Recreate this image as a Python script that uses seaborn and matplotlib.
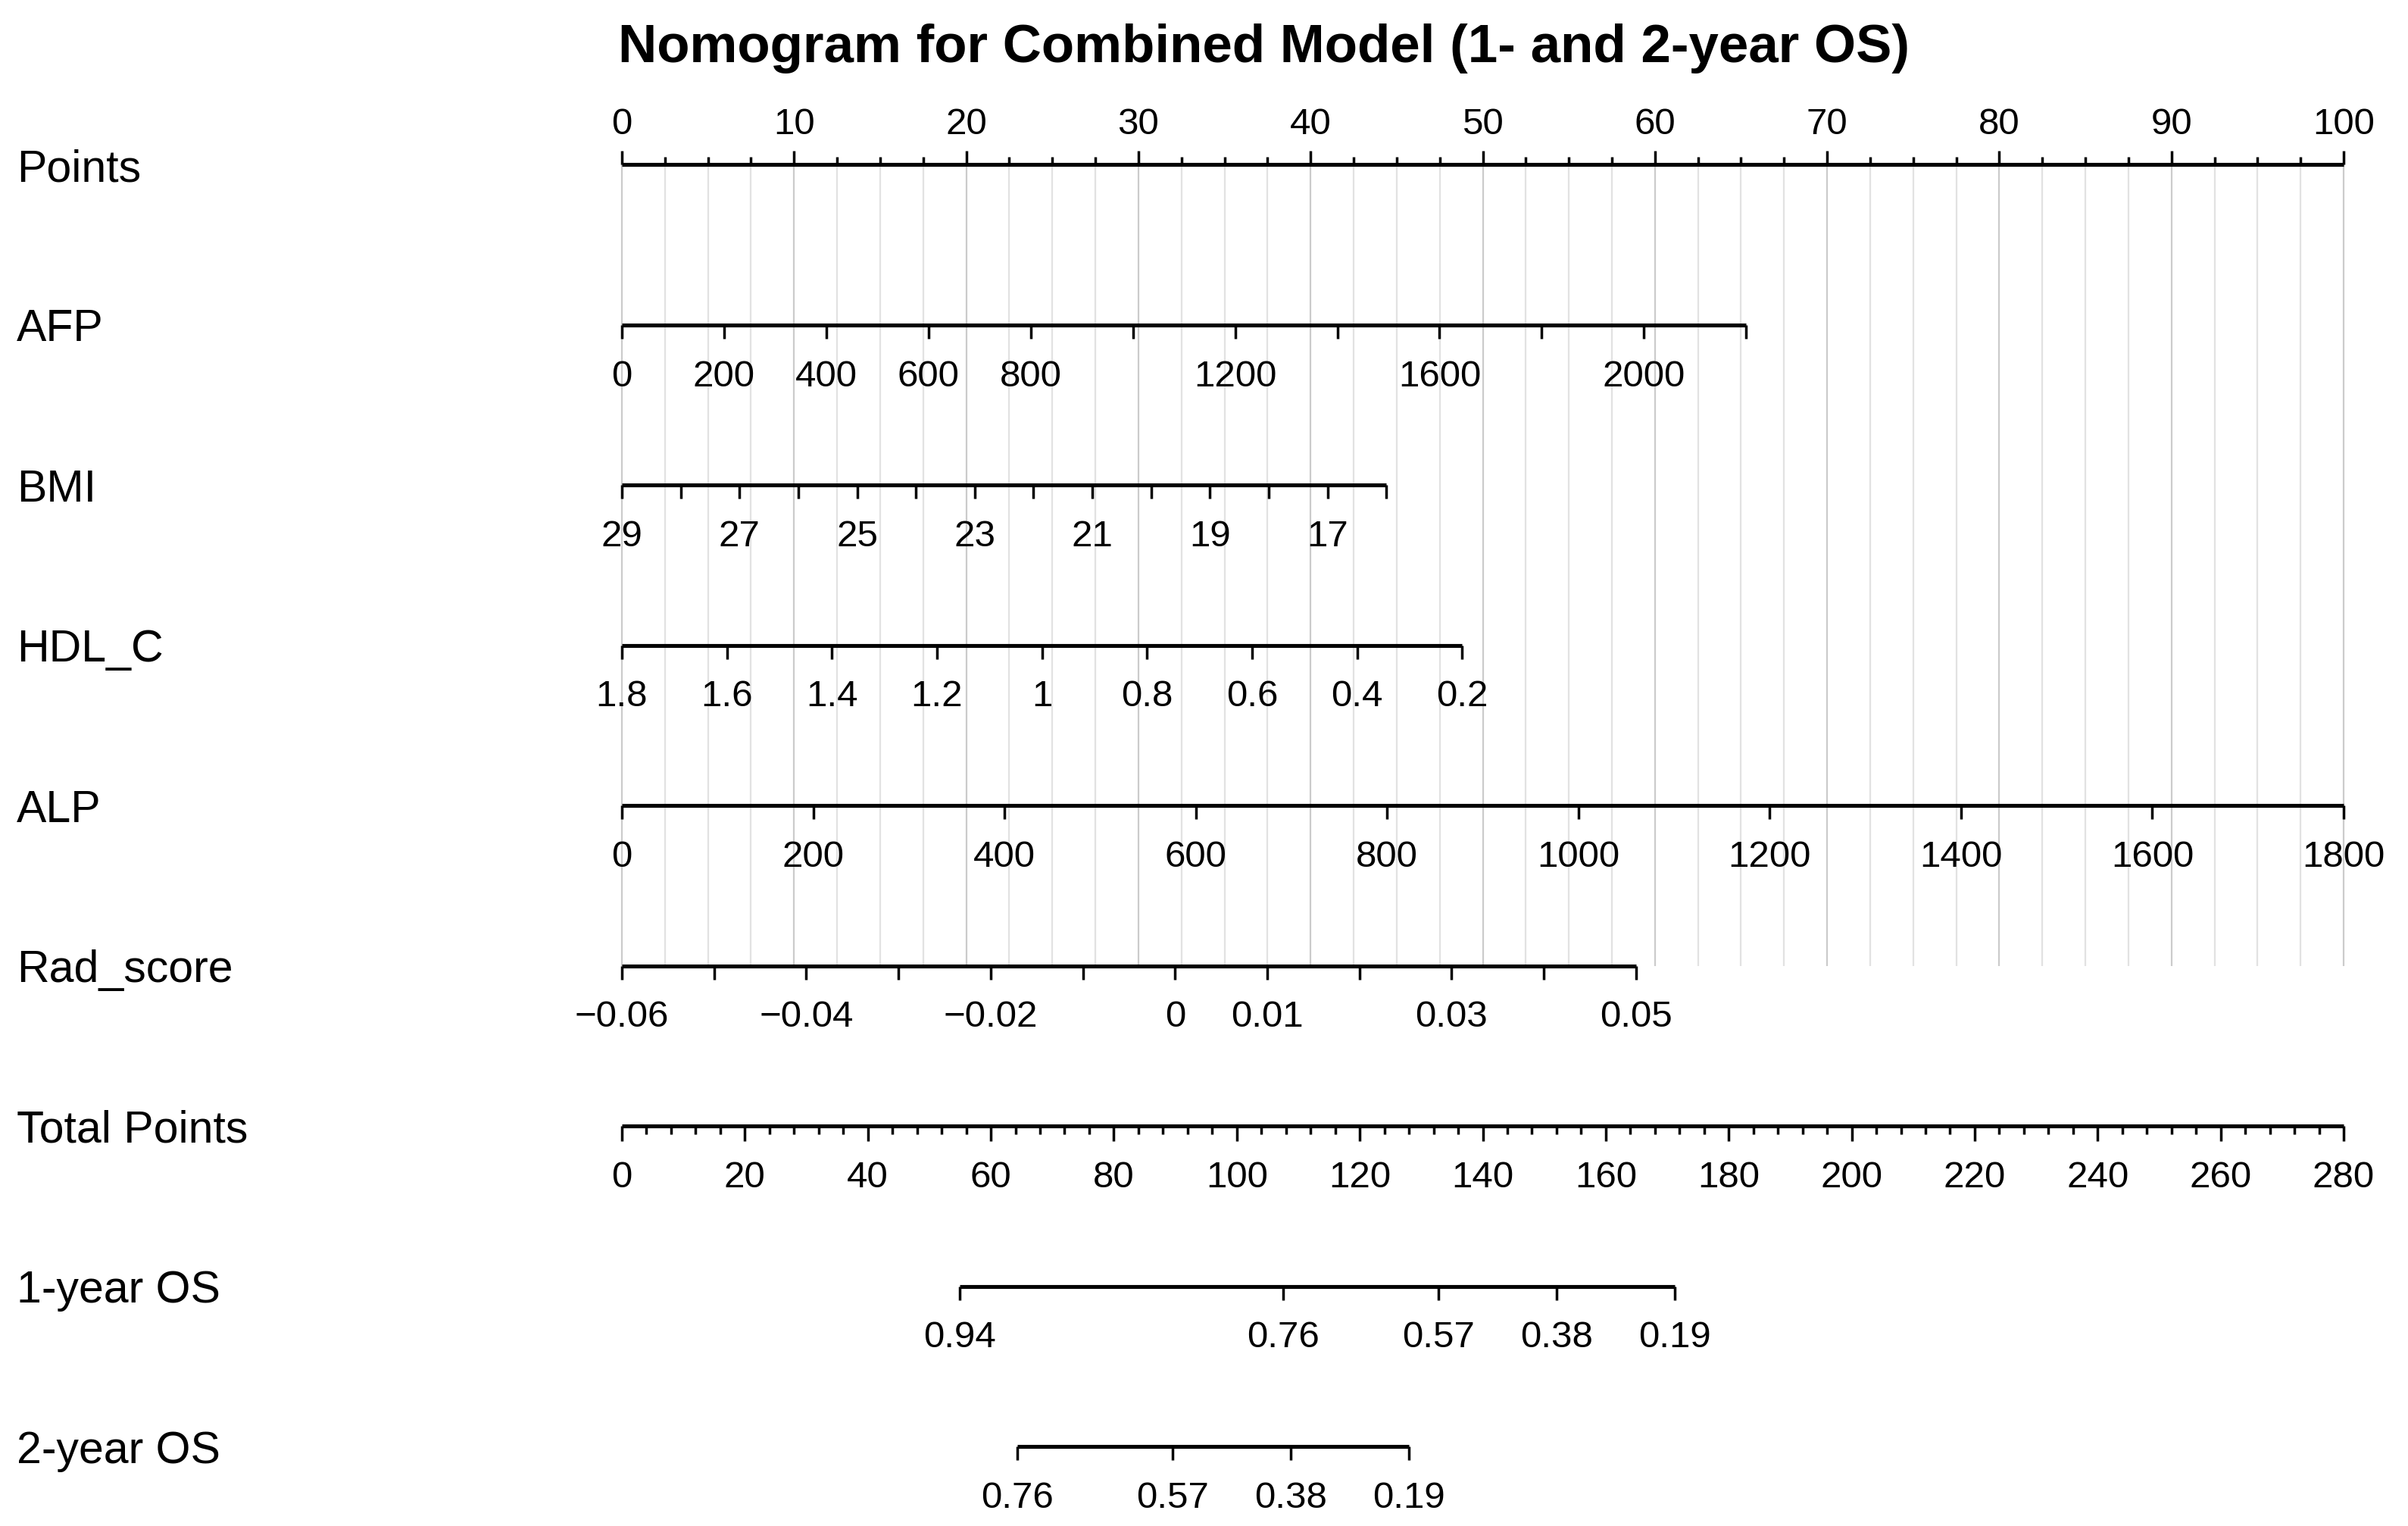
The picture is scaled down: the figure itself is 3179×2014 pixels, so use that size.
import numpy as np
import pandas as pd
import matplotlib
matplotlib.use("Agg")
import matplotlib.pyplot as plt
import seaborn as sns

# ---------------- data ----------------
title = "Nomogram for Combined Model (1- and 2-year OS)"
row_names = ["Points", "AFP", "BMI", "HDL_C", "ALP", "Rad_score",
             "Total Points", "1-year OS", "2-year OS"]

points_ticks = list(np.arange(0, 100.01, 2.5))
points_labels = [str(int(v)) if v % 10 == 0 else "" for v in points_ticks]

afp_ticks = [0, 200, 400, 600, 800, 1000, 1200, 1400, 1600, 1800, 2000, 2200]
afp_labels = ["0", "200", "400", "600", "800", "", "1200", "", "1600", "", "2000", ""]
afp_scale = [(0, 0.0), (2200, 65.3)]          # (value, points)

bmi_ticks = [29, 28, 27, 26, 25, 24, 23, 22, 21, 20, 19, 18, 17, 16]
bmi_labels = ["29", "", "27", "", "25", "", "23", "", "21", "", "19", "", "17", ""]
bmi_scale = [(29, 0.0), (16, 44.4)]

hdl_ticks = [1.8, 1.6, 1.4, 1.2, 1.0, 0.8, 0.6, 0.4, 0.2]
hdl_labels = ["1.8", "1.6", "1.4", "1.2", "1", "0.8", "0.6", "0.4", "0.2"]
hdl_scale = [(1.8, 0.0), (0.2, 48.8)]

alp_ticks = [0, 200, 400, 600, 800, 1000, 1200, 1400, 1600, 1800]
alp_labels = ["0", "200", "400", "600", "800", "1000", "1200", "1400", "1600", "1800"]
alp_scale = [(0, 0.0), (1800, 100.0)]

rad_ticks = [-0.06, -0.05, -0.04, -0.03, -0.02, -0.01, 0.0, 0.01, 0.02, 0.03, 0.04, 0.05]
rad_labels = ["\u22120.06", "", "\u22120.04", "", "\u22120.02", "", "0", "0.01", "", "0.03", "", "0.05"]
rad_scale = [(-0.06, 0.0), (0.05, 58.9)]

total_ticks = list(range(0, 281, 4))
total_labels = [str(v) if v % 20 == 0 else "" for v in total_ticks]
total_scale = [(0, 0.0), (280, 100.0)]

os1_labels = ["0.94", "0.76", "0.57", "0.38", "0.19"]
os1_total = [54.9, 107.6, 132.8, 152.0, 171.2]
os2_labels = ["0.76", "0.57", "0.38", "0.19"]
os2_total = [64.3, 89.6, 108.8, 128.0]

# ---------------- style ----------------
sns.set_theme(style="white")
plt.rcParams["font.family"] = ["Liberation Sans", "DejaVu Sans"]
plt.rcParams["text.color"] = "black"

W, H = 3179, 2015
fig = plt.figure(figsize=(W / 100, H / 100), dpi=100)
ax = fig.add_axes([0, 0, 1, 1])
X0, PX = 821.0, 22.73            # pixel of 0 points, pixels per point

row_y = [218 + 211.5 * i for i in range(len(row_names))]
TICK_FS, LAB_FS = 35.5, 42.5
LW_AX, LW_TK = 3.7, 2.5
TL = 18  # tick length, px


def to_points(vals, scale):
    (v0, p0), (v1, p1) = scale
    return [p0 + (v - v0) / (v1 - v0) * (p1 - p0) for v in vals]


# grid lines
for g in points_ticks:
    ax.vlines(g, row_y[0], row_y[5], color="#cbcbcb" if g % 10 == 0 else "#e2e2e2",
              lw=1.6, zorder=0)

rows = []  # (row index, x positions, labels, tick lengths, up?)
rows.append((0, points_ticks, points_labels,
             [TL if v % 10 == 0 else 10 for v in points_ticks], True))
rows.append((1, to_points(afp_ticks, afp_scale), afp_labels, [TL] * len(afp_ticks), False))
rows.append((2, to_points(bmi_ticks, bmi_scale), bmi_labels, [TL] * len(bmi_ticks), False))
rows.append((3, to_points(hdl_ticks, hdl_scale), hdl_labels, [TL] * len(hdl_ticks), False))
rows.append((4, to_points(alp_ticks, alp_scale), alp_labels, [TL] * len(alp_ticks), False))
rows.append((5, to_points(rad_ticks, rad_scale), rad_labels, [TL] * len(rad_ticks), False))
rows.append((6, to_points(total_ticks, total_scale), total_labels,
             [20 if v % 20 == 0 else 11 for v in total_ticks], False))
rows.append((7, to_points(os1_total, total_scale), os1_labels, [TL] * len(os1_total), False))
rows.append((8, to_points(os2_total, total_scale), os2_labels, [TL] * len(os2_total), False))

# axis lines through seaborn
seg = []
for i, xs, _, _, _ in rows:
    seg.append({"row": i, "x": min(xs), "y": row_y[i]})
    seg.append({"row": i, "x": max(xs), "y": row_y[i]})
seg = pd.DataFrame(seg)
sns.lineplot(data=seg, x="x", y="y", units="row", estimator=None, sort=False,
             color="black", lw=LW_AX, legend=False, ax=ax,
             solid_capstyle="butt")
ax.set_xlim(-X0 / PX, (W - X0) / PX)
ax.set_ylim(H, 0)
ax.axis("off")

for i, xs, labs, lens, up in rows:
    y = row_y[i]
    for x, lab, L in zip(xs, labs, lens):
        if up:
            ax.vlines(x, y - L, y, color="black", lw=LW_TK)
            if lab:
                ax.text(x, y - 41, lab, ha="center", va="baseline", fontsize=TICK_FS,
                        color="black")
        else:
            ax.vlines(x, y, y + L, color="black", lw=LW_TK)
            if lab:
                ax.text(x, y + 80, lab, ha="center", va="baseline", fontsize=TICK_FS,
                        color="black")
    ax.text(-(X0 - 22) / PX, y + 21, row_names[i], ha="left", va="baseline",
            fontsize=LAB_FS, color="black")

ax.text((1668 - X0) / PX, 82, title, ha="center", va="baseline",
        fontsize=51, fontweight="bold", color="black")

fig.savefig("out.png", dpi=100, facecolor="white")
